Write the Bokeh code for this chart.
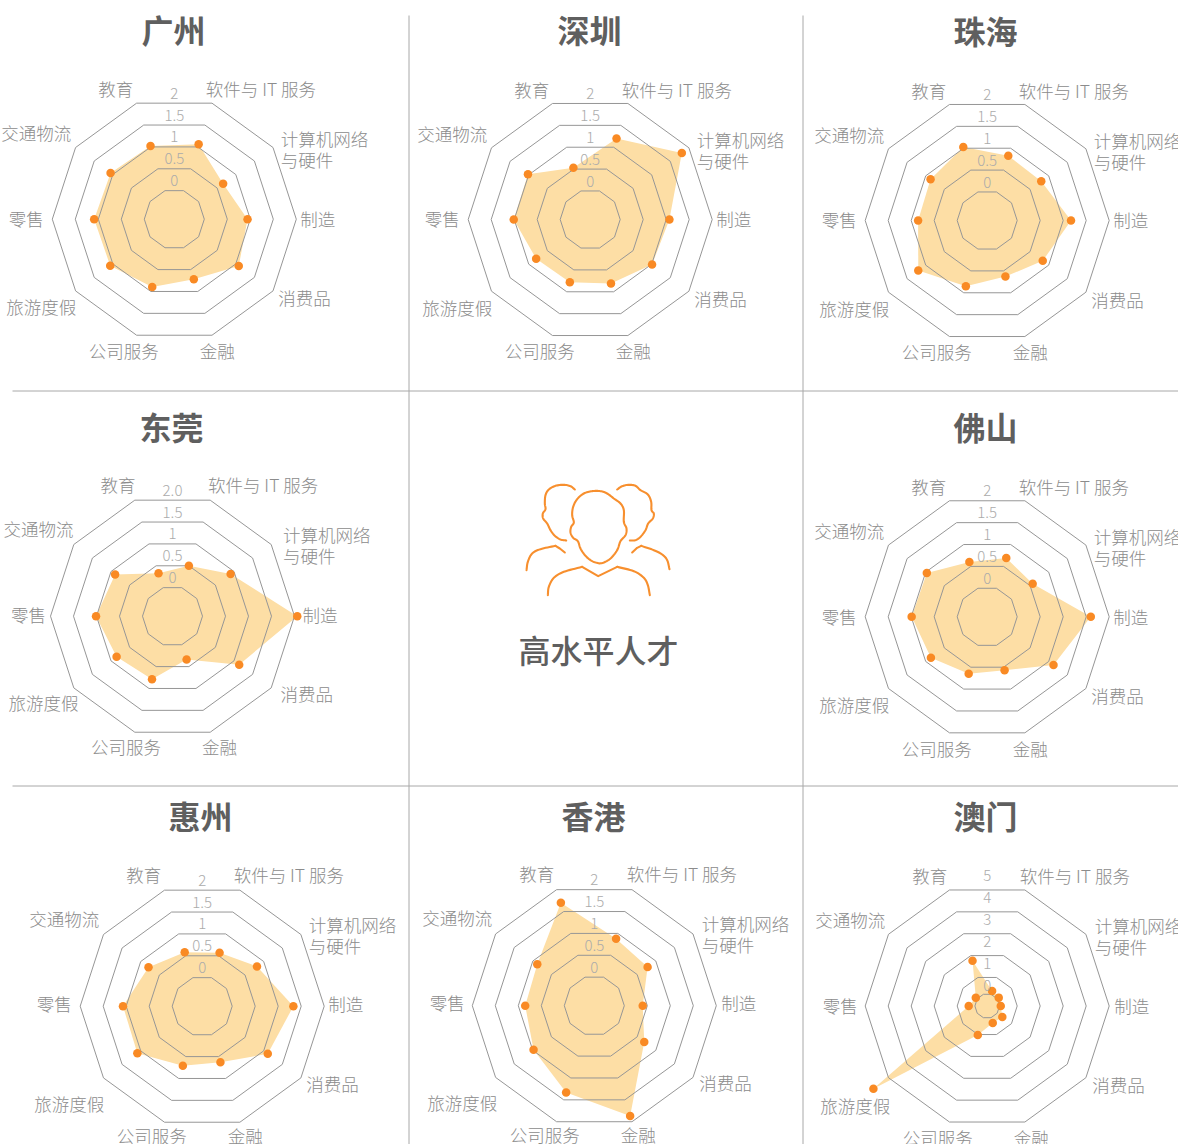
import numpy as np
from bokeh.plotting import figure
from bokeh.embed import file_html
from bokeh.resources import INLINE
from bokeh.core.properties import value

# ---- data -------------------------------------------------------------
categories = ["软件与 IT 服务", "计算机网络\n与硬件", "制造", "消费品", "金融",
              "公司服务", "旅游度假", "零售", "交通物流", "教育"]
guangzhou = [1.06, 0.66, 0.94, 1.08, 0.72, 0.90, 1.07, 1.09, 1.06, 1.02]
shenzhen  = [1.20, 1.81, 1.07, 1.01, 0.81, 0.78, 0.80, 1.01, 1.02, 0.53]
zhuhai    = [0.83, 0.80, 1.17, 0.84, 0.63, 0.85, 1.20, 0.85, 0.87, 1.03]
dongguan  = [0.50, 0.91, 2.06, 1.14, 0.34, 0.79, 0.85, 1.01, 0.89, 0.33]
foshan    = [0.69, 0.57, 1.60, 1.13, 0.57, 0.65, 0.86, 0.99, 0.97, 0.60]
huizhou   = [0.57, 0.82, 1.33, 1.11, 0.63, 0.71, 1.09, 1.07, 0.79, 0.58]
hongkong  = [0.88, 0.78, 0.40, 0.69, 1.87, 1.33, 0.98, 0.85, 0.88, 1.70]
macao     = [0.20, 0.11, 0.07, 0.36, 0.32, 1.02, 5.81, 0.35, 0.10, 1.76]

ticks_a = ["0", "0.5", "1", "1.5", "2"]
ticks_b = ["0", "0.5", "1", "1.5", "2.0"]
ticks_c = ["0", "1", "2", "3", "4", "5"]
center_title = "高水平人才"

# ---- layout -----------------------------------------------------------
W, H = 1178, 1144
FONT = "Noto Sans CJK SC Light"
FONT_M = "Noto Sans CJK SC Medium"
FONT_B = "Noto Sans CJK SC"
LABEL = "#8c8c8c"
TICK = "#ababab"
RING = "#969696"
FILL = "#fddea5"
DOT = "#f98a24"
TITLE = "#5f5f5f"
SEP = "#a8a8a8"

RADII5 = [30, 53, 76, 99, 122]
RADII6 = [12.3, 30, 53, 76, 99, 122]

panels = [
    # title, values, ticks, cx, cy, title x, title y, label dx, label dy, extra drop of the 旅游度假 label
    ("广州", guangzhou, ticks_a, 173.8, 218.7, 173, 28, 0, 0, 0),
    ("深圳", shenzhen, ticks_a, 589.7, 219.0, 589, 28, 0, 0, 0),
    ("珠海", zhuhai, ticks_a, 986.7, 220.0, 985, 29, 0, 0, 0),
    ("东莞", dongguan, ticks_b, 172.0, 615.7, 171, 425, 4, -1, 0),
    ("佛山", foshan, ticks_a, 986.7, 616.3, 985, 425, 0, 0.5, 0),
    ("惠州", huizhou, ticks_a, 201.7, 1005.7, 200, 814, 0, -1.5, 11.5),
    ("香港", hongkong, ticks_a, 593.8, 1005.2, 593, 814, 1, -2, 11.5),
    ("澳门", macao, ticks_c, 986.7, 1005.5, 985, 814, 1, 0, 11.5),
]

# label anchors around a panel centre: dx, dy, align
anchors = [
    (31.5, -130.5, "left"), (106.5, -80.5, "left"), (126, -1, "left"), (104, 78.5, "left"),
    (25.5, 131, "left"), (-15.5, 131, "right"), (-98, 87.5, "right"),
    (-130.5, -1, "right"), (-103, -86.5, "right"), (-41, -130.5, "right"),
]
TRAVEL = categories.index("旅游度假")

angles = np.deg2rad(18 + 36 * np.arange(10))

p = figure(width=W, height=H, x_range=(0, W), y_range=(H, 0),
           toolbar_location=None, output_backend="svg", min_border=0,
           x_axis_type="linear", y_axis_type="linear", background_fill_color="white",
           border_fill_color="white", outline_line_color=None)
p.axis.visible = False
p.grid.visible = False

# separators
p.segment([408.5, 802.5], [15, 15], [408.5, 802.5], [H, H], line_color=SEP, line_width=1)
p.segment([12, 12], [390.5, 785.5], [W, W], [390.5, 785.5], line_color=SEP, line_width=1)


def text(xs, ys, txt, size, color, font, align="center", style="normal"):
    p.text(xs, ys, text=txt, text_font=value(font), text_font_size=f"{size}px",
           text_color=color, text_align=align, text_baseline="middle",
           text_font_style=style)


for name, vals, ticks, cx, cy, tx, ty, ldx, ldy, travel_drop in panels:
    radii = RADII6 if len(ticks) == 6 else RADII5
    tv = np.array([float(t) for t in ticks])
    step = radii[-1] - radii[-2]
    dv = tv[-1] - tv[-2]
    # radial scale, extended one step past the last ring
    r_of = lambda v: np.interp(v, list(tv) + [tv[-1] + dv], list(radii) + [radii[-1] + step])
    r = r_of(np.array(vals))
    px = cx + r * np.sin(angles)
    py = cy - r * np.cos(angles)
    p.patch(px, py, fill_color=FILL, line_color=None)
    for rr in radii:
        p.patch(cx + rr * np.sin(angles), cy - rr * np.cos(angles),
                fill_color=None, line_color=RING, line_width=1)
    p.scatter(px, py, size=8.5, fill_color=DOT, line_color=None, marker="circle")

    # tick labels
    base = -21 if len(ticks) == 6 else -38.5
    tys = [cy + base - 21.9 * k for k in range(len(ticks))]
    text([cx] * len(ticks), tys, ticks, 15, TICK, FONT)

    # category labels
    for j, (cat, (dx, dy, al)) in enumerate(zip(categories, anchors)):
        drop = travel_drop if j == TRAVEL else 0
        lines = cat.split("\n")
        for i, ln in enumerate(lines):
            text([cx + dx + ldx], [cy + dy + ldy + drop + 21 * i], [ln], 17.5, LABEL, FONT, al)

    text([tx], [ty], [name], 32, TITLE, FONT_B, style="bold")

# central icon, traced outlines
ICON_X0, ICON_Y0, ICON_S = 520, 478, 3
icon_paths = [
    [(163,33),(150,23),(130,19),(105,22),(85,33),(75,50),(73,75),(75,92),(67,105),(68,120),(80,135),(90,155),(103,172),(120,183),(137,186)],
    [(18,275),(22,250),(35,225),(60,212),(105,202)],
    [(105,202),(118,210),(133,222)],
    [(237,255),(215,248),(195,232),(180,210),(172,188),(158,178),(150,162),(152,145),(160,132),(155,110),(158,85),(170,62),(190,45),(215,38),(240,38),(260,45),(280,60),(300,75),(310,95),(310,130),(318,150),(315,170),(300,188),(290,215),(270,240),(250,252),(237,255)],
    [(82,350),(85,325),(100,298),(130,280),(185,265)],
    [(185,265),(233,293),(290,265)],
    [(290,265),(340,278),(370,298),(382,320),(388,350)],
    [(290,33),(305,23),(325,19),(345,22),(360,35),(382,48),(392,70),(393,95),(400,105),(397,120),(383,135),(375,155),(360,175),(345,185),(328,186)],
    [(447,272),(440,245),(425,228),(400,215),(362,202)],
    [(362,202),(350,208),(335,222)],
]


def smooth(pts, n=8):
    a = np.array(pts, float)
    a = np.vstack([2 * a[0] - a[1], a, 2 * a[-1] - a[-2]])
    out = []
    t = np.linspace(0, 1, n, endpoint=False)[:, None]
    for i in range(1, len(a) - 2):
        p0, p1, p2, p3 = a[i - 1], a[i], a[i + 1], a[i + 2]
        out.append(0.5 * (2 * p1 + (p2 - p0) * t + (2 * p0 - 5 * p1 + 4 * p2 - p3) * t ** 2
                          + (3 * p1 - p0 - 3 * p2 + p3) * t ** 3))
    out.append(a[-2][None, :])
    return np.vstack(out)


for path in icon_paths:
    s = smooth(path) if len(path) > 3 else np.array(path, float)
    p.line(ICON_X0 + s[:, 0] / ICON_S, ICON_Y0 + s[:, 1] / ICON_S,
           line_color="#f78f2e", line_width=2.1, line_cap="round", line_join="round")

text([598], [648], [center_title], 32, TITLE, FONT_M)

open("out.html", "w").write(file_html(p, INLINE))
